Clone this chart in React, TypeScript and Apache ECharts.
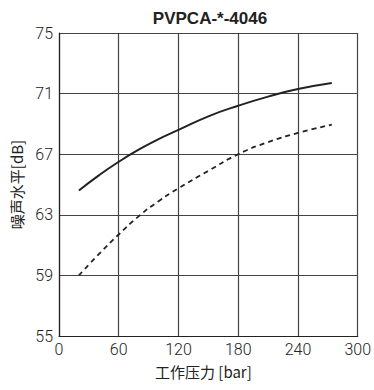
import React, { useEffect, useRef } from "react";
import * as echarts from "echarts";

const title = "PVPCA-*-4046";
const xName = "工作压力 [bar]";
const yName = "噪声水平[dB]";
const pressure = [20, 40, 60, 80, 100, 120, 150, 180, 210, 240, 274];
const solidNoise = [64.6, 65.6, 66.5, 67.3, 68.0, 68.6, 69.5, 70.2, 70.8, 71.3, 71.7];
const dashedNoise = [59.0, 60.4, 61.7, 62.9, 63.9, 64.75, 65.9, 67.0, 67.8, 68.4, 68.95];

export default function App() {
  const ref = useRef<HTMLDivElement>(null);
  useEffect(() => {
    const chart = echarts.init(ref.current!, null, { renderer: "svg" });
    const numFont = "Roboto";
    chart.setOption({
      animation: false,
      title: {
        text: title,
        left: 205,
        top: 5,
        textAlign: "center",
        textStyle: { fontFamily: "Liberation Sans", fontWeight: "bold", fontSize: 17, color: "#222" },
      },
      grid: { left: 59, right: 12, top: 33, bottom: 54 },
      xAxis: {
        type: "value",
        min: 0,
        max: 300,
        interval: 60,
        name: xName,
        nameLocation: "middle",
        nameGap: 28,
        nameTextStyle: { fontFamily: "Noto Sans CJK SC", fontSize: 15, color: "#222", padding: [0, 10, 0, 0] },
        axisLine: { show: true, lineStyle: { color: "#222", width: 1.2 } },
        axisTick: { show: false },
        axisLabel: { fontFamily: numFont, fontWeight: 300, fontSize: 16, color: "#222", margin: 5 },
        splitLine: { show: true, lineStyle: { color: "#444", width: 1.2 } },
      },
      yAxis: {
        type: "value",
        min: 55,
        max: 75,
        interval: 4,
        name: yName,
        nameLocation: "middle",
        nameGap: 33,
        nameTextStyle: { fontFamily: "Noto Sans CJK SC", fontSize: 15, color: "#222" },
        axisLine: { show: true, lineStyle: { color: "#222", width: 1.2 } },
        axisTick: { show: false },
        axisLabel: { fontFamily: numFont, fontWeight: 300, fontSize: 16, color: "#222", margin: 6 },
        splitLine: { show: true, lineStyle: { color: "#444", width: 1.2 } },
      },
      series: [
        {
          type: "line",
          data: pressure.map((p, i) => [p, solidNoise[i]]),
          smooth: true,
          showSymbol: false,
          lineStyle: { color: "#222", width: 2, type: "solid" },
        },
        {
          type: "line",
          data: pressure.map((p, i) => [p, dashedNoise[i]]),
          smooth: true,
          showSymbol: false,
          lineStyle: { color: "#222", width: 1.8, type: [5, 4] },
        },
      ],
    });
    return () => chart.dispose();
  }, []);
  return <div ref={ref} style={{ width: 374, height: 390, position: "absolute", left: 0, top: 0 }} />;
}
